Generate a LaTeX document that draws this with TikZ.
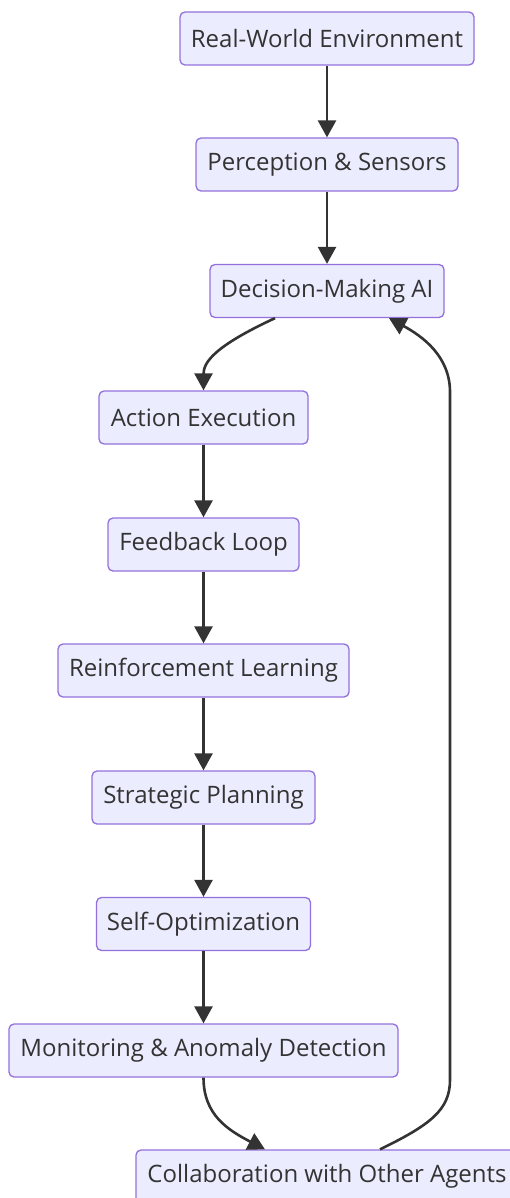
\documentclass[tikz,border=0pt]{standalone}
\usepackage{fontspec}
\setmainfont{Open Sans}
\usetikzlibrary{arrows.meta}
\definecolor{nodefill}{HTML}{ECECFF}
\definecolor{nodeborder}{HTML}{9370DB}
\definecolor{ink}{HTML}{333333}
\tikzset{
  box/.style={draw=nodeborder, fill=nodefill, line width=1.3pt, rounded corners=5pt,
    minimum height=53pt, inner xsep=0pt, text=ink, font=\fontsize{24}{28}\selectfont},
  conn/.style={draw=ink, line width=2.6pt, -{Triangle[length=17pt,width=18pt]}}
}
\begin{document}
\begin{tikzpicture}[x=1pt,y=-1pt]
\useasboundingbox (0,0) rectangle (510,1198);
\node[box, minimum width=294pt] (rw) at (327,38.5) {Real-World Environment};
\node[box, minimum width=262pt] (ps) at (327,164.5) {Perception \& Sensors};
\node[box, minimum width=234pt] (dm) at (327,291) {Decision-Making AI};
\node[box, minimum width=209pt] (ae) at (203.5,417.5) {Action Execution};
\node[box, minimum width=191pt] (fl) at (203.5,544.5) {Feedback Loop};
\node[box, minimum width=291pt] (rl) at (203.5,670.5) {Reinforcement Learning};
\node[box, minimum width=223pt] (sp) at (203.5,797.5) {Strategic Planning};
\node[box, minimum width=214pt] (so) at (203.5,924) {Self-Optimization};
\node[box, minimum width=389pt] (ma) at (203.5,1050.5) {Monitoring \& Anomaly Detection};
\node[box, minimum width=382pt] (co) at (327,1176.5) {Collaboration with Other Agents};

\draw[conn] (rw) -- (ps);
\draw[conn] (ps) -- (dm);
\draw[conn] ([xshift=-52pt]dm.south) .. controls (215,346) and (203.5,362) .. (ae.north);
\draw[conn] (ae) -- (fl);
\draw[conn] (fl) -- (rl);
\draw[conn] (rl) -- (sp);
\draw[conn] (sp) -- (so);
\draw[conn] (so) -- (ma);
\draw[conn] (ma.south) .. controls (203.5,1115) and (228,1130) .. ([xshift=-62pt]co.north);
\draw[conn] ([xshift=53pt]co.north) .. controls (430,1125) and (450,1110) .. (450,1080)
  -- (450,392) .. controls (450,356) and (422,336) .. ([xshift=62pt]dm.south);
\end{tikzpicture}
\end{document}
